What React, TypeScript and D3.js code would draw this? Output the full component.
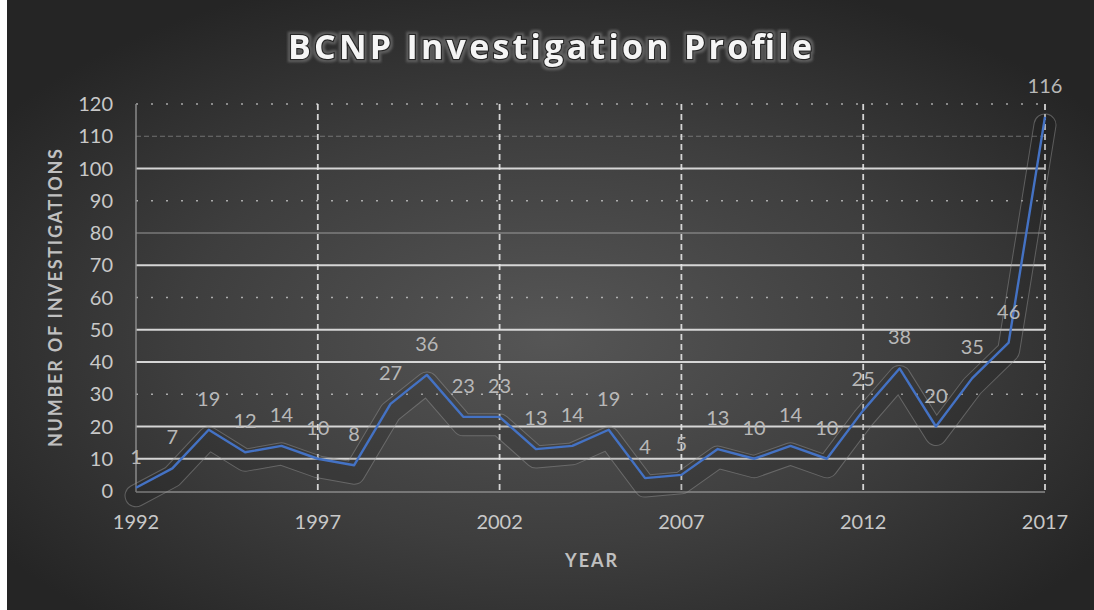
import React from "react";
import * as d3 from "d3";

const years: number[] = [1992,1993,1994,1995,1996,1997,1998,1999,2000,2001,2002,2003,2004,2005,2006,2007,2008,2009,2010,2011,2012,2013,2014,2015,2016,2017];
const investigations: number[] = [1,7,19,12,14,10,8,27,36,23,23,13,14,19,4,5,13,10,14,10,25,38,20,35,46,116];
const yTicks: number[] = [0,10,20,30,40,50,60,70,80,90,100,110,120];
const xTicks: number[] = [1992,1997,2002,2007,2012,2017];
const title = "BCNP Investigation Profile";
const yTitle = "NUMBER OF INVESTIGATIONS";
const xTitle = "YEAR";

const W = 1094, H = 610;
const FONT = "Lato, 'Open Sans', sans-serif";

function gridStyle(v: number): { stroke: string; width: number; dash?: string; opacity: number } {
  if ([10, 20, 40, 50, 70, 100].includes(v)) return { stroke: "#e6e6e6", width: 1.8, opacity: 0.9 };
  if ([80].includes(v)) return { stroke: "#b0b0b0", width: 1.2, opacity: 0.8 };
  if ([110].includes(v)) return { stroke: "#9a9a9a", width: 1, dash: "5 3", opacity: 0.6 };
  if (v === 0) return { stroke: "none", width: 0, opacity: 0 };
  return { stroke: "#d0d0d0", width: 1.3, dash: "2 13", opacity: 0.75 };
}

export default function App() {
  const x = d3.scaleLinear().domain([1992, 2017]).range([136, 1045]);
  const y = d3.scaleLinear().domain([0, 120]).range([491, 104]);
  const pts: [number, number][] = years.map((yr, i) => [x(yr), y(investigations[i])]);
  const line = d3.line<[number, number]>().x(d => d[0]).y(d => d[1]);
  const path = line(pts) || "";

  return (
    <div>
      <style>{`body{margin:0;}`}</style>
      <svg width={W} height={H} style={{ display: "block" }}>
        <defs>
          <radialGradient id="bg" cx="50%" cy="55%" r="62%">
            <stop offset="0%" stopColor="#565656" />
            <stop offset="55%" stopColor="#3e3e3e" />
            <stop offset="100%" stopColor="#252525" />
          </radialGradient>
          <mask id="ring" maskUnits="userSpaceOnUse" x={0} y={0} width={W} height={H}>
            <path d={path} fill="none" stroke="white" strokeWidth={23} strokeLinejoin="round" strokeLinecap="round" transform="translate(0,8)" />
            <path d={path} fill="none" stroke="black" strokeWidth={21} strokeLinejoin="round" strokeLinecap="round" transform="translate(0,8)" />
          </mask>
          <filter id="titleGlow" x="-10%" y="-40%" width="120%" height="180%">
            <feMorphology in="SourceAlpha" operator="dilate" radius="2" result="d" />
            <feGaussianBlur in="d" stdDeviation="1" result="b" />
            <feFlood floodColor="#6a6a6a" floodOpacity="0.8" />
            <feComposite in2="b" operator="in" result="s" />
            <feMerge>
              <feMergeNode in="s" />
              <feMergeNode in="SourceGraphic" />
            </feMerge>
          </filter>
        </defs>
        <rect x={0} y={0} width={W} height={H} fill="#ffffff" />
        <rect x={7} y={0} width={W - 7} height={H} fill="url(#bg)" />

        {/* title */}
        <text x={550} y={59} textAnchor="middle" fontFamily="'Open Sans', sans-serif" fontWeight={700} fontSize={34}
          fill="#f5f5f5" stroke="#262626" strokeWidth={2.5} paintOrder="stroke" filter="url(#titleGlow)"
          textLength={524} lengthAdjust="spacing">{title}</text>

        {/* horizontal gridlines */}
        {yTicks.map(v => {
          const s = gridStyle(v);
          return <line key={"h" + v} x1={x(1992)} x2={x(2017)} y1={y(v)} y2={y(v)} stroke={s.stroke}
            strokeWidth={s.width} strokeDasharray={s.dash} opacity={s.opacity} />;
        })}
        {/* vertical dashed gridlines */}
        {xTicks.filter(t => t !== 1992).map(t => (
          <line key={"v" + t} x1={x(t)} x2={x(t)} y1={y(120)} y2={y(0)} stroke="#e6e6e6" strokeWidth={1.8} strokeDasharray="6 4" opacity={0.9} />
        ))}

        {/* axes */}
        <line x1={x(1992)} x2={x(1992)} y1={y(120)} y2={y(0) + 1} stroke="#8a8a8a" strokeWidth={1.5} />
        <line x1={x(1992)} x2={x(2017)} y1={y(0) + 1} y2={y(0) + 1} stroke="#8a8a8a" strokeWidth={1.5} />

        {/* y tick labels */}
        {yTicks.map(v => (
          <text key={"yt" + v} x={113} y={y(v) + 7} textAnchor="end" fontFamily={FONT} fontSize={20} fill="#c8c8c8">{v}</text>
        ))}
        {/* x tick labels */}
        {xTicks.map(t => (
          <text key={"xt" + t} x={x(t)} y={529} textAnchor="middle" fontFamily={FONT} fontSize={20} fill="#c8c8c8">{t}</text>
        ))}

        {/* axis titles */}
        <text transform="translate(62,298) rotate(-90)" textAnchor="middle" fontFamily={FONT} fontWeight={700} fontSize={18}
          fill="#c0c0c0" textLength={298} lengthAdjust="spacing">{yTitle}</text>
        <text x={591} y={567} textAnchor="middle" fontFamily={FONT} fontWeight={700} fontSize={18} fill="#c0c0c0"
          textLength={52} lengthAdjust="spacing">{xTitle}</text>

        {/* line shadow band */}
        <path d={path} fill="none" stroke="#000" strokeOpacity={0.11} strokeWidth={21} strokeLinejoin="round" strokeLinecap="round" transform="translate(0,8)" />
        <rect x={0} y={0} width={W} height={H} fill="#8c8c8c" opacity={0.5} mask="url(#ring)" />
        {/* main line */}
        <path d={path} fill="none" stroke="#4472c4" strokeWidth={2.4} strokeLinejoin="round" />

        {/* data labels */}
        {pts.map((p, i) => (
          <text key={"dl" + i} x={p[0]} y={p[1] - 24} textAnchor="middle" fontFamily={FONT} fontSize={20} fill="#b8b8b8">{investigations[i]}</text>
        ))}
      </svg>
    </div>
  );
}
